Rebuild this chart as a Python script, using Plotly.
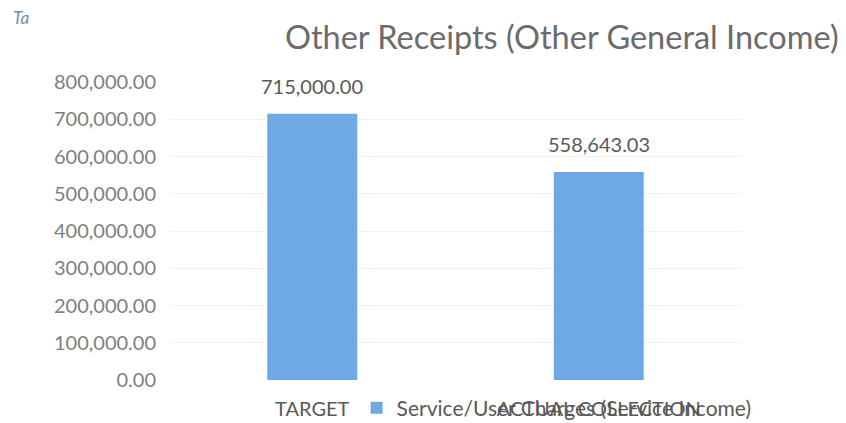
import plotly.graph_objects as go

# data
categories = ["TARGET", "ACTUAL COLLECTION"]
values = [715000.00, 558643.03]
series_name = "Service/User Charges (Service Income)"
tick_vals = [0, 100000, 200000, 300000, 400000, 500000, 600000, 700000, 800000]
tick_text = ["0.00", "100,000.00", "200,000.00", "300,000.00", "400,000.00",
             "500,000.00", "600,000.00", "700,000.00", "800,000.00"]

fnt = "Lato, 'Open Sans', sans-serif"

fig = go.Figure()
fig.add_trace(go.Bar(
    x=categories,
    y=values,
    name=series_name,
    marker=dict(color="#6fa9e3", line=dict(width=0)),
    showlegend=True,
))

# value labels above the bars
for c, v in zip(categories, values):
    fig.add_annotation(x=c, y=v, text=f"{v:,.2f}", showarrow=False,
                       yanchor="bottom", yshift=14,
                       font=dict(size=20, color="#595959", family=fnt))

# page body has an 8px margin, so the figure is a bit smaller than the window
fig.update_layout(
    width=838, height=415,
    margin=dict(l=161, r=104, t=74, b=43, autoexpand=False),
    paper_bgcolor="white",
    plot_bgcolor="white",
    font=dict(family=fnt, color="#7f7f7f"),
    title=dict(text="Other Receipts (Other General Income)",
               x=0.3305, xanchor="left", y=0.928, yanchor="middle",
               font=dict(size=32.5, color="#6b6b6b", family=fnt)),
    bargap=0.686,
    showlegend=True,
    legend=dict(orientation="h", xref="container", x=0.416, xanchor="left",
                yref="container", y=0.036, yanchor="middle",
                bgcolor="rgba(0,0,0,0)", itemwidth=30,
                font=dict(size=21, color="#595959", family=fnt)),
    yaxis=dict(range=[0, 800000], tickvals=tick_vals, ticktext=tick_text,
               showline=False, gridcolor="#f3f3f3", zeroline=False, automargin=False,
               tickfont=dict(size=20, color="#7f7f7f"), ticklabelstandoff=12),
    xaxis=dict(showline=False, showgrid=False, ticks="", automargin=False,
               tickfont=dict(size=20, color="#595959"), ticklabelstandoff=15),
)

fig.add_annotation(text="<i>Ta</i>", xref="paper", yref="paper",
                   x=-0.258, y=1.215, xanchor="center", yanchor="middle",
                   showarrow=False, font=dict(size=17, color="#6a8fb5", family=fnt))

fig.write_html("out.html")
